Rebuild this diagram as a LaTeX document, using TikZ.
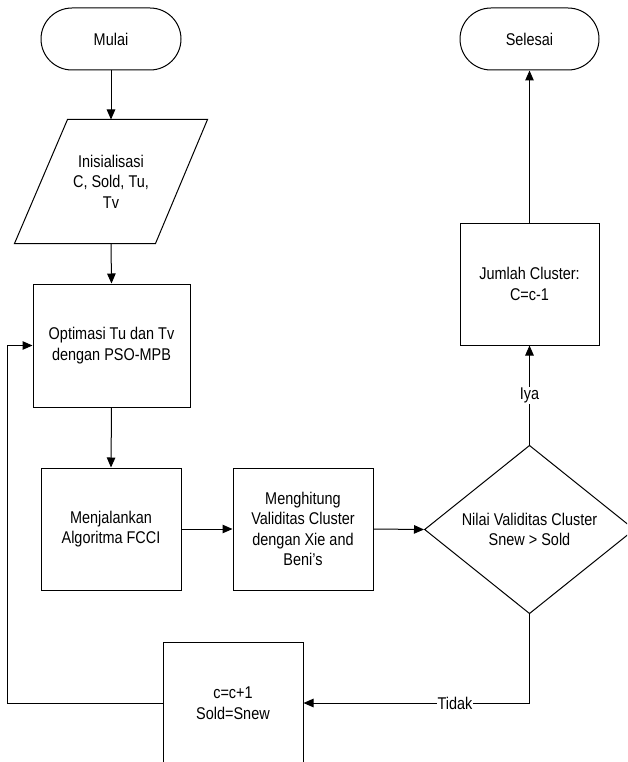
\documentclass[tikz,border=0pt]{standalone}
\usepackage{fontspec}
\setmainfont{Liberation Sans}[FakeStretch=0.85]
\usetikzlibrary{arrows.meta,shapes.geometric,calc}

\tikzset{
  base/.style={draw=black, line width=1pt, align=center, inner sep=0pt,
    font=\fontsize{17}{20.5}\selectfont},
  terminal/.style={base, rectangle, rounded corners=31pt,
    minimum width=139pt, minimum height=62pt},
  procbox/.style={base, rectangle, minimum width=140pt, minimum height=122pt},
  iobox/.style={base, draw=none, rectangle, minimum width=192pt, minimum height=123pt},
  decision/.style={base, diamond, minimum width=210pt, minimum height=163pt},
  flow/.style={draw=black, line width=1pt, -{Triangle[length=10pt,width=8.5pt]}},
  edgelabel/.style={fill=white, inner sep=1pt, font=\fontsize{17}{20}\selectfont}
}

\begin{document}
\begin{tikzpicture}[x=1pt, y=-1pt]
  \useasboundingbox (0,0) rectangle (627,762);
  \clip (0,0) rectangle (627,762);

  % left column
  \node[terminal, minimum width=140pt] (mulai) at (111,39) {Mulai};
  \node[iobox] (init) at (111,181.5) {Inisialisasi\\C, Sold, Tu,\\Tv};
  \draw[line width=1pt]
    ($(init.north west)+(53,0)$) -- (init.north east)
    -- ($(init.south east)+(-52,0)$) -- (init.south west) -- cycle;
  \node[procbox, minimum width=157pt, minimum height=123pt] (opt) at (111.5,345.5)
    {Optimasi Tu dan Tv\\dengan PSO-MPB};
  \node[procbox] (fcci) at (111,529) {Menjalankan\\Algoritma FCCI};

  % middle row
  \node[procbox] (xb) at (303,529) {Menghitung\\Validitas Cluster\\dengan Xie and\\Beni’s};
  \node[decision] (cond) at (529.5,529.5) {Nilai Validitas Cluster\\Snew > Sold};

  % right column
  \node[procbox, minimum width=139pt] (jumlah) at (529.5,284) {Jumlah Cluster:\\C=c-1};
  \node[terminal] (selesai) at (529.5,39) {Selesai};

  % update step
  \node[procbox] (upd) at (233,703) {c=c+1\\Sold=Snew};
  \coordinate (loop) at (7,703);

  % connectors
  \draw[flow] (mulai.south) -- (init.north);
  \draw[flow] (init.south) -- (opt.north);
  \draw[flow] (opt.south) -- (fcci.north);
  \draw[flow] (fcci.east) -- (xb.west);
  \draw[flow] (xb.east) -- (cond.west);
  \draw[flow] (cond.north) -- node[edgelabel, pos=0.495] {Iya} (jumlah.south);
  \draw[flow] (jumlah.north) -- (selesai.south);
  \draw[flow] (cond.south) |- node[edgelabel, pos=0.665] {Tidak} (upd.east);
  \draw[flow] (upd.west) -- (loop) |- (opt.west);
\end{tikzpicture}
\end{document}
